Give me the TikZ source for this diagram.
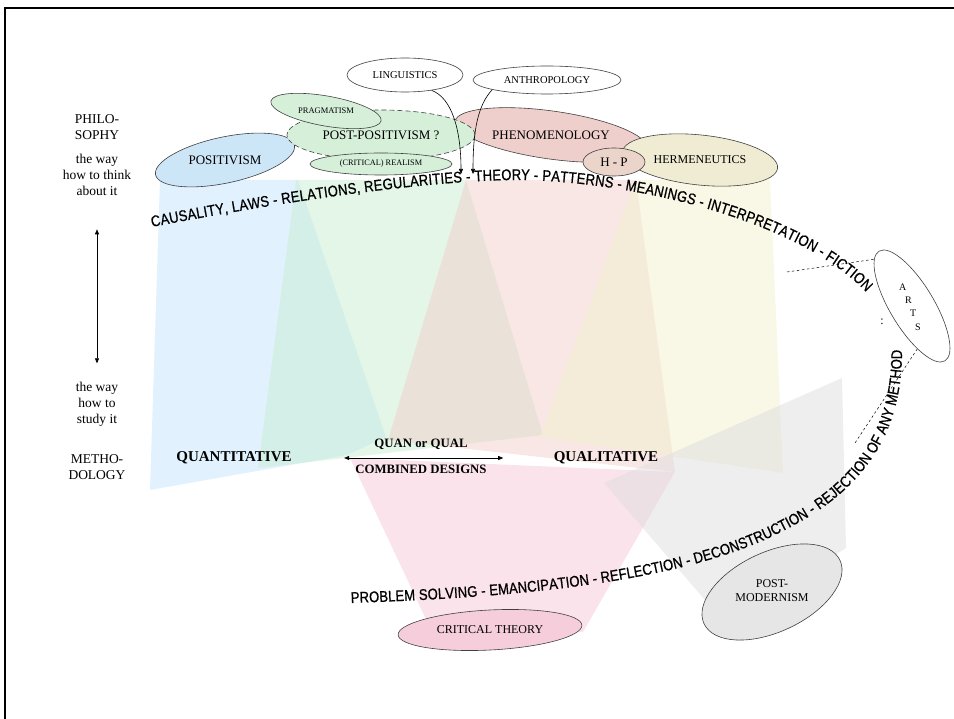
\documentclass[tikz,border=0pt]{standalone}
\usepackage{fontspec}
\setmainfont{Liberation Serif}
\newfontfamily\arcfont[FakeStretch=0.84, FakeBold=0.8]{Liberation Sans}
\usepackage{graphicx}
\usetikzlibrary{shapes.geometric,arrows.meta,decorations.text}

\definecolor{posblue}{HTML}{CCE5F7}
\definecolor{ppgreen}{HTML}{D5EFD9}
\definecolor{phenopink}{HTML}{EFCFCC}
\definecolor{hpbrown}{HTML}{EBD5CB}
\definecolor{hermbeige}{HTML}{F0ECD3}
\definecolor{ctpink}{HTML}{F6CEDB}
\definecolor{pmgray}{HTML}{E6E6E6}
\definecolor{beamblue}{HTML}{C4E4FB}
\definecolor{beamgreen}{HTML}{C8EDD2}
\definecolor{beampink}{HTML}{F1CFCB}
\definecolor{beambeige}{HTML}{F3EFCE}
\definecolor{beamct}{HTML}{F7C8D9}
\definecolor{beamgray}{HTML}{DEDEDE}

\begin{document}
\begin{tikzpicture}[x=1pt, y=-1pt,
    school/.style={ellipse, draw=black!75, line width=0.6pt, inner sep=0pt},
    beam/.style={fill opacity=0.5},
    side/.style={align=center, font=\fontsize{13.5}{16}\selectfont},
    method/.style={font=\bfseries\fontsize{15}{18}\selectfont},
    mixed/.style={font=\bfseries\fontsize{12.8}{15}\selectfont},
    pointer/.style={-{Triangle[length=5pt,width=4pt]}, line width=0.6pt},
    both/.style={{Triangle[length=5pt,width=4pt]}-{Triangle[length=5pt,width=4pt]}, line width=0.6pt},
    link/.style={line width=0.5pt, dash pattern=on 2.5pt off 2.5pt},
    arctext/.style={decorate, decoration={text along path, text align=fit to path,
        text={|\arcfont\fontsize{7.75}{7.75}\selectfont|#1}}}
  ]
  \useasboundingbox (0,0) rectangle (954,719);
  \draw[line width=2pt] (5,719) -- (5,8) -- (954,8);

  % Beams
  \fill[beam, beamblue] (160,180) -- (298,180) -- (386,437) -- (347,455) -- (150,490) -- cycle;
  \fill[beam, beamgreen] (296,180) -- (466,180) -- (543,435) -- (258,468) -- cycle;
  \fill[beam, beampink] (466,180) -- (636,180) -- (675,472) -- (388,440) -- cycle;
  \fill[beam, beambeige] (636,180) -- (770,180) -- (783,473) -- (540,437) -- cycle;
  \fill[beam, beamct] (350,458) -- (675,472) -- (583,632) -- (432,632) -- cycle;
  \fill[beam, beamgray] (842,378) -- (846,548) -- (780,590) -- (705,600) -- (604,483) -- cycle;

  % Nodes
  \node[school, fill=posblue, minimum width=142pt, minimum height=46pt, rotate=12,
    font=\fontsize{13}{15}\selectfont] (posit) at (225,160) {\rotatebox{-12}{POSITIVISM}};
  \node[school, fill=phenopink, minimum width=194pt, minimum height=48pt, rotate=-8,
    font=\fontsize{13}{15}\selectfont] (pheno) at (551,135) {\rotatebox{8}{PHENOMENOLOGY}};
  \node[school, fill=hermbeige, minimum width=156pt, minimum height=50pt, rotate=-6,
    font=\fontsize{12}{14}\selectfont] (herm) at (700,160) {\rotatebox{6}{HERMENEUTICS}};
  \node[school, fill=hpbrown, minimum width=62pt, minimum height=28pt,
    font=\fontsize{13}{15}\selectfont] (hp) at (614,162) {H - P};
  \node[school, fill=ppgreen, dash pattern=on 5pt off 3pt, minimum width=188pt, minimum height=50pt,
    font=\fontsize{13}{15}\selectfont] (postpos) at (381,135) {POST-POSITIVISM ?};
  \node[school, fill=ppgreen, minimum width=112pt, minimum height=30pt, rotate=-10,
    font=\fontsize{8.5}{10}\selectfont] (pragm) at (326,111) {\rotatebox{10}{PRAGMATISM}};
  \node[school, fill=ppgreen, minimum width=142pt, minimum height=22pt,
    font=\fontsize{8.3}{10}\selectfont] (realism) at (381,164) {(CRITICAL) REALISM};
  \node[school, fill=white, minimum width=116pt, minimum height=34pt,
    font=\fontsize{10.5}{12}\selectfont] (ling) at (405,75) {LINGUISTICS};
  \node[school, fill=white, minimum width=148pt, minimum height=28pt,
    font=\fontsize{10.5}{12}\selectfont] (anth) at (547,80) {ANTHROPOLOGY};
  \node[school, fill=white, minimum width=128pt, minimum height=44pt, rotate=-59] (arts) at (912,306) {};
  \node[align=left, inner sep=0pt, font=\fontsize{10}{13.5}\selectfont] (artsword) at (910,307)
    {A\\\hspace*{6pt}R\\\hspace*{11pt}T\\\hspace*{16pt}S};
  \node[font=\fontsize{12}{12}\selectfont] (artsdots) at (882,322) {:};
  \node[school, fill=ctpink, minimum width=184pt, minimum height=40pt, rotate=3,
    font=\fontsize{12}{14}\selectfont] (ct) at (490,630) {\rotatebox{-3}{CRITICAL THEORY}};
  \node[school, fill=pmgray, minimum width=150pt, minimum height=70pt, rotate=25,
    font=\fontsize{12}{14}\selectfont] (pm) at (772,592)
    {\rotatebox{-25}{\begin{tabular}{@{}c@{}}POST-\\MODERNISM\end{tabular}}};

  \node[side] (philo) at (97,127) {PHILO-\\SOPHY};
  \node[side] (think) at (97,175) {the way\\how to think\\about it};
  \node[side] (study) at (97,404) {the way\\how to\\study it};
  \node[side] (metho) at (97,467) {METHO-\\DOLOGY};

  \node[method] (quant) at (234,458) {QUANTITATIVE};
  \node[method] (qual) at (606,458) {QUALITATIVE};
  \node[mixed] (quanqual) at (421,444) {QUAN or QUAL};
  \node[mixed] (combined) at (421,469) {COMBINED DESIGNS};

  \coordinate (lingtip) at (461,174);
  \coordinate (anthtip) at (473,174);
  \coordinate (artsleft) at (787,272);
  \coordinate (artslow) at (855,443);

  % Edges
  \draw[pointer] (ling.-30) .. controls (452,98) and (461,130) .. (lingtip);
  \draw[pointer] (anth.-170) .. controls (478,105) and (473,130) .. (anthtip);
  \draw[both, shorten <=30pt, shorten >=15pt] (think) -- (study);
  \draw[both, shorten <=49pt, shorten >=47pt] (quant) -- (qual);
  \draw[link] (artsleft) -- (arts.188);
  \draw[link] (arts.-24) -- (artslow);

  % Arcs (half size, scaled back up)
  \begin{scope}[transform canvas={scale=2}]
    \path[arctext={CAUSALITY, LAWS - RELATIONS, REGULARITIES - THEORY - PATTERNS - MEANINGS - INTERPRETATION - FICTION}]
      (76,113.5) .. controls (130,103) and (210,90) .. (260,90)
      .. controls (320,91) and (400,111) .. (433,146);
    \path[arctext={PROBLEM SOLVING - EMANCIPATION - REFLECTION - DECONSTRUCTION - REJECTION OF ANY METHOD}]
      (175.5,301.5) .. controls (250,299) and (340,292.5) .. (391.5,265.5)
      .. controls (422.5,250) and (451.5,225) .. (451,175);
  \end{scope}
\end{tikzpicture}
\end{document}
